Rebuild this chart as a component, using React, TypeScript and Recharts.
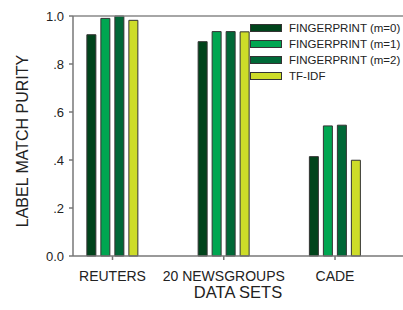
import { BarChart, Bar, XAxis, YAxis, ReferenceLine } from 'recharts';

const categories = ['REUTERS', '20 NEWSGROUPS', 'CADE'];
const fingerprintM0 = [0.922, 0.893, 0.414];
const fingerprintM1 = [0.99, 0.935, 0.542];
const fingerprintM2 = [1.0, 0.935, 0.545];
const tfIdf = [0.982, 0.934, 0.399];
const yTicks = [0, 0.2, 0.4, 0.6, 0.8, 1.0];
const yTickLabels = ['0.0', '.2', '.4', '.6', '.8', '1.0'];

const series = [
  { key: 'm0', name: 'FINGERPRINT (m=0)', color: '#00441b' },
  { key: 'm1', name: 'FINGERPRINT (m=1)', color: '#00a651' },
  { key: 'm2', name: 'FINGERPRINT (m=2)', color: '#006837' },
  { key: 'tfidf', name: 'TF-IDF', color: '#cddc29' },
];

const data = categories.map((c, i) => ({
  x: i + 1,
  name: c,
  m0: fingerprintM0[i],
  m1: fingerprintM1[i],
  m2: fingerprintM2[i],
  tfidf: tfIdf[i],
}));

const font = '"Liberation Sans", Arial, Helvetica, sans-serif';

function LegendBox() {
  return (
    <div
      style={{
        position: 'absolute',
        left: 250,
        top: 20,
        fontFamily: font,
        fontSize: 11.5,
        color: '#222',
        whiteSpace: 'nowrap',
      }}
    >
      {series.map((s) => (
        <div key={s.key} style={{ display: 'flex', alignItems: 'center', height: 16 }}>
          <div
            style={{
              width: 30,
              height: 6,
              background: s.color,
              border: '1px solid #333',
              marginRight: 7,
            }}
          />
          <span>{s.name}</span>
        </div>
      ))}
    </div>
  );
}

export default function App() {
  return (
    <div style={{ position: 'fixed', left: 0, top: 0, width: 403, height: 310, overflow: 'hidden', background: '#fff' }}>
      <BarChart
        width={403}
        height={310}
        data={data}
        margin={{ top: 16, right: 0, left: 0, bottom: 0 }}
        barSize={9}
        barGap={5}
      >
        <XAxis
          type="number"
          dataKey="x"
          domain={[0.645, 3.611]}
          allowDataOverflow
          ticks={[1, 2, 3]}
          tickFormatter={(v) => categories[v - 1]}
          height={54}
          stroke="#777"
          strokeWidth={1.5}
          tickSize={4}
          tickMargin={11}
          tick={{ fill: '#222', fontSize: 14, fontFamily: font }}
          label={{
            content: () => (
              <text x={238} y={298} textAnchor="middle" fill="#222" fontSize={16.5} fontFamily={font}>
                DATA SETS
              </text>
            ),
          }}
        />
        <YAxis
          domain={[0, 1]}
          ticks={yTicks}
          tickFormatter={(v) => yTickLabels[yTicks.indexOf(v)]}
          width={73}
          stroke="#777"
          strokeWidth={1.5}
          tickSize={4}
          tickMargin={5}
          tick={{ fill: '#222', fontSize: 13, fontFamily: font }}
          label={{
            content: () => (
              <text
                x={22}
                y={141}
                transform="rotate(-90 22 141)"
                textAnchor="middle"
                dominantBaseline="central"
                fill="#222"
                fontSize={16}
                fontFamily={font}
              >
                LABEL MATCH PURITY
              </text>
            ),
          }}
        />
        <ReferenceLine y={1} stroke="#888" strokeWidth={1.5} />
        {series.map((s) => (
          <Bar
            key={s.key}
            dataKey={s.key}
            name={s.name}
            fill={s.color}
            stroke="#333"
            strokeWidth={1}
            isAnimationActive={false}
          />
        ))}
      </BarChart>
      <LegendBox />
    </div>
  );
}
